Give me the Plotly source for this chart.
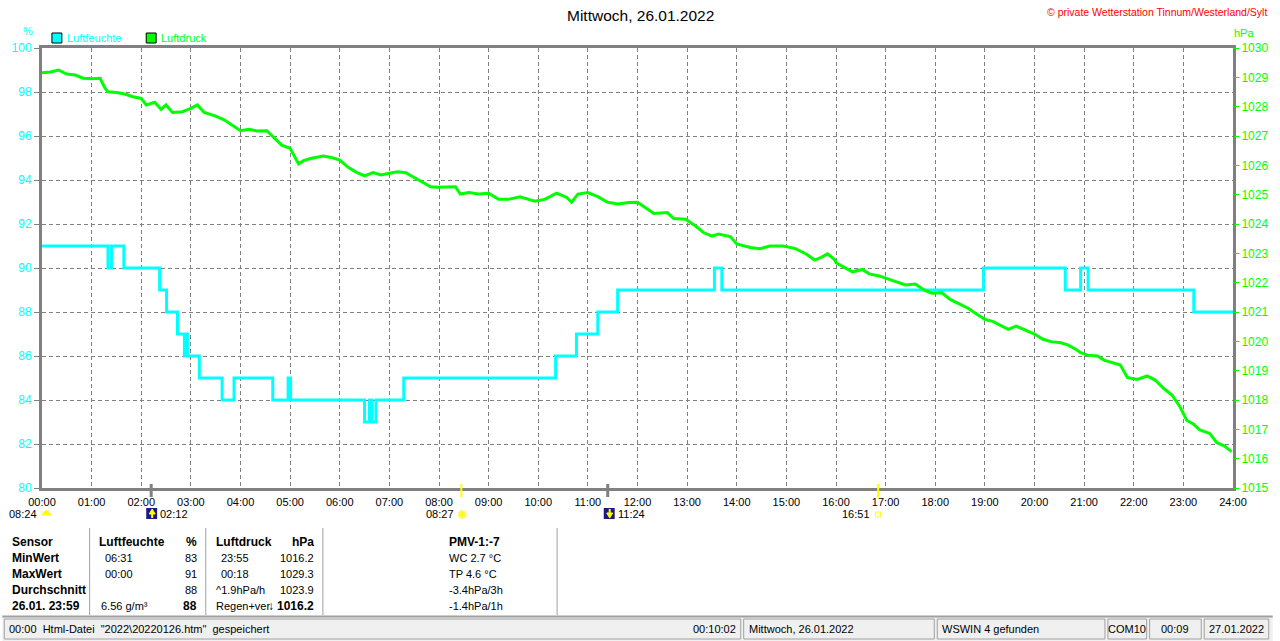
import plotly.graph_objects as go

# Luftfeuchte (%), Stufenwerte: Zeit in Stunden, Wert gilt ab dieser Zeit
hum_t = [0.00, 1.33, 1.40, 1.65, 2.37, 2.51, 2.73, 2.87, 2.90, 2.93, 3.17, 3.63, 3.87,
         4.65, 4.96, 5.01, 6.50, 6.60, 6.65, 6.73, 7.29, 10.35, 10.77, 11.20, 11.60,
         13.55, 13.70, 18.97, 20.62, 20.93, 21.08, 23.21, 24.00]
hum_v = [91, 90, 91, 90, 89, 88, 87, 86, 87, 86, 85, 84, 85,
         84, 85, 84, 83, 84, 83, 84, 85, 86, 87, 88, 89,
         90, 89, 90, 89, 90, 89, 88, 88]

# Luftdruck (hPa)
pres_t = [0.00, 0.17, 0.33, 0.50, 0.67, 0.83, 1.00, 1.17, 1.27, 1.33, 1.50, 1.67, 1.83,
          2.00, 2.10, 2.27, 2.40, 2.50, 2.63, 2.83, 3.00, 3.13, 3.27, 3.50, 3.67, 3.83,
          4.00, 4.17, 4.33, 4.53, 4.67, 4.83, 5.00, 5.10, 5.17, 5.27, 5.43, 5.67, 5.83,
          6.00, 6.17, 6.33, 6.50, 6.67, 6.83, 7.00, 7.17, 7.33, 7.50, 7.67, 7.83, 7.97,
          8.17, 8.33, 8.43, 8.60, 8.80, 9.00, 9.20, 9.40, 9.63, 9.80, 9.93, 10.13, 10.37,
          10.57, 10.67, 10.80, 11.00, 11.20, 11.40, 11.60, 11.83, 12.00, 12.17, 12.33,
          12.60, 12.73, 12.97, 13.17, 13.33, 13.50, 13.63, 13.87, 14.00, 14.27, 14.47,
          14.67, 14.93, 15.17, 15.40, 15.57, 15.70, 15.83, 15.97, 16.00, 16.17, 16.33,
          16.53, 16.67, 16.87, 17.07, 17.23, 17.40, 17.60, 17.77, 17.93, 18.13, 18.30,
          18.50, 18.67, 18.83, 19.00, 19.17, 19.33, 19.47, 19.63, 19.80, 20.00, 20.17,
          20.33, 20.53, 20.67, 20.83, 20.93, 21.07, 21.27, 21.40, 21.60, 21.73, 21.87,
          22.07, 22.27, 22.43, 22.60, 22.77, 22.93, 23.07, 23.20, 23.33, 23.53, 23.67,
          23.83, 23.97]
pres_v = [1029.16, 1029.18, 1029.25, 1029.11, 1029.08, 1028.97, 1028.95, 1028.97, 1028.63,
          1028.51, 1028.48, 1028.43, 1028.34, 1028.28, 1028.06, 1028.15, 1027.91, 1028.06,
          1027.80, 1027.83, 1027.94, 1028.06, 1027.80, 1027.68, 1027.55, 1027.38, 1027.18,
          1027.23, 1027.17, 1027.18, 1026.95, 1026.69, 1026.58, 1026.24, 1026.05, 1026.16,
          1026.24, 1026.32, 1026.27, 1026.18, 1025.93, 1025.77, 1025.64, 1025.75, 1025.67,
          1025.73, 1025.78, 1025.75, 1025.59, 1025.44, 1025.27, 1025.25, 1025.25, 1025.27,
          1025.02, 1025.07, 1025.02, 1025.05, 1024.84, 1024.84, 1024.93, 1024.84, 1024.78,
          1024.84, 1025.05, 1024.91, 1024.74, 1025.02, 1025.07, 1024.93, 1024.74, 1024.68,
          1024.73, 1024.74, 1024.53, 1024.36, 1024.39, 1024.19, 1024.16, 1023.93, 1023.71,
          1023.59, 1023.66, 1023.57, 1023.32, 1023.20, 1023.16, 1023.25, 1023.25, 1023.17,
          1022.98, 1022.77, 1022.86, 1022.98, 1022.79, 1022.68, 1022.52, 1022.37, 1022.45,
          1022.30, 1022.23, 1022.11, 1022.00, 1021.92, 1021.95, 1021.75, 1021.64, 1021.66,
          1021.43, 1021.27, 1021.12, 1020.93, 1020.75, 1020.67, 1020.52, 1020.41, 1020.52,
          1020.39, 1020.25, 1020.07, 1019.99, 1019.95, 1019.88, 1019.73, 1019.61, 1019.53,
          1019.50, 1019.36, 1019.25, 1019.19, 1018.77, 1018.70, 1018.82, 1018.68, 1018.40,
          1018.17, 1017.77, 1017.30, 1017.18, 1016.98, 1016.86, 1016.55, 1016.43, 1016.24]

hours = list(range(25))
hour_labels = ["%02d:00" % h for h in hours]

# Sonne / Mond
sun_rise, sun_set = 8 + 27 / 60, 16 + 51 / 60
moon_rise, moon_set = 2 + 12 / 60, 11 + 24 / 60

# Tabelle unter dem Diagramm
tab_rows = ["Sensor", "MinWert", "MaxWert", "Durchschnitt", "26.01. 23:59"]
hum_times = ["", "06:31", "00:00", "", ""]
hum_vals = ["<b>%</b>", "83", "91", "88", "<b>88</b>"]
pres_times = ["", "23:55", "00:18", "", ""]
pres_vals = ["<b>hPa</b>", "1016.2", "1029.3", "1023.9", "<b>1016.2</b>"]
pmv_lines = ["<b>PMV-1:-7</b>", "WC 2.7 °C", "TP 4.6 °C", "-3.4hPa/3h", "-1.4hPa/1h"]

status_panels = [
    (2, 744, "00:00\u00a0 Html-Datei\u00a0 \"2022\\20220126.htm\"\u00a0 gespeichert", "left"),
    (2, 744, "00:10:02", "right"),
    (747, 939, "Mittwoch, 26.01.2022", "left"),
    (942, 1111, "WSWIN 4 gefunden", "left"),
    (1114, 1153, "COM10", "center"),
    (1156, 1208, "00:09", "center"),
    (1211, 1276, "27.01.2022", "center"),
]

CYAN = "#00ffff"
GREEN = "#00ff00"
GRID = "#808080"
FONT = "Liberation Sans, Arial, sans-serif"
FS = 11


def px(x):
    return (x - 40) / 1200


def py(y):
    return (488 - y) / 440


fig = go.Figure()
fig.add_trace(go.Scatter(x=hum_t, y=hum_v, mode="lines", line_shape="hv",
                         line=dict(color=CYAN, width=3), name="Luftfeuchte"))
fig.add_trace(go.Scatter(x=pres_t, y=pres_v, mode="lines", yaxis="y2",
                         line=dict(color=GREEN, width=3), name="Luftdruck"))

annotations = []
shapes = []


def text(x, y, s, anchor="left", color="black", size=FS):
    annotations.append(dict(x=px(x), y=py(y), xref="paper", yref="paper", text=s,
                            showarrow=False, xanchor=anchor, yanchor="middle",
                            font=dict(family=FONT, size=size, color=color)))


# Titel und Copyright
text(643, 15, "Mittwoch, 26.01.2022", "center", size=15.5)
text(1276, 12, "© private Wetterstation Tinnum/Westerland/Sylt", "right", color="#ff0000", size=10.5)

# Legende und Einheiten
shapes.append(dict(type="rect", xref="paper", yref="paper", x0=px(50), x1=px(60), y0=py(43), y1=py(33),
                   fillcolor=CYAN, line=dict(color="black", width=1)))
text(63, 38, "Luftfeuchte", color=CYAN)
shapes.append(dict(type="rect", xref="paper", yref="paper", x0=px(145), x1=px(155), y0=py(43), y1=py(33),
                   fillcolor=GREEN, line=dict(color="black", width=1)))
text(158, 38, "Luftdruck", color=GREEN)
text(26, 31, "%", "center", color=CYAN)
text(1239, 33, "hPa", "left", color=GREEN)

# Sonnen- und Mondzeiten unter der Zeitachse
for t, col, w in [(sun_rise, "#ffff00", 2), (sun_set, "#ffff00", 2), (moon_rise, GRID, 3), (moon_set, GRID, 3)]:
    x = 40 + t * 50
    shapes.append(dict(type="line", xref="paper", yref="paper", x0=px(x), x1=px(x), y0=py(484), y1=py(497),
                       line=dict(color=col, width=w)))

text(37, 514, "08:24", "right")
shapes.append(dict(type="path", xref="paper", yref="paper",
                   path="M %f %f Q %f %f %f %f Z" % (px(40), py(515), px(44.5), py(506), px(49), py(515)),
                   fillcolor="#ffff00", line=dict(color="#ffff00", width=1)))
text(457, 514, "08:27", "right")
shapes.append(dict(type="circle", xref="paper", yref="paper", x0=px(460), x1=px(467), y0=py(518), y1=py(511),
                   fillcolor="#ffff00", line=dict(color="#fff080", width=2)))
text(876, 514, "16:51", "right")
shapes.append(dict(type="rect", xref="paper", yref="paper", x0=px(880), x1=px(885), y0=py(517), y1=py(512),
                   fillcolor="white", line=dict(color="#ffff00", width=1)))
for x0, label, up in [(145, "02:12", True), (606, "11:24", False)]:
    shapes.append(dict(type="rect", xref="paper", yref="paper", x0=px(x0), x1=px(x0 + 11), y0=py(519), y1=py(508),
                       fillcolor="#1a1a80", line=dict(width=0)))
    if up:
        p = "M %f %f L %f %f L %f %f Z" % (px(x0 + 3), py(514), px(x0 + 6), py(509), px(x0 + 9), py(514))
        shapes.append(dict(type="line", xref="paper", yref="paper", x0=px(x0 + 6), x1=px(x0 + 6),
                           y0=py(513), y1=py(518), line=dict(color="#ffff00", width=2)))
    else:
        p = "M %f %f L %f %f L %f %f Z" % (px(x0 + 3), py(513), px(x0 + 6), py(518), px(x0 + 9), py(513))
        shapes.append(dict(type="line", xref="paper", yref="paper", x0=px(x0 + 6), x1=px(x0 + 6),
                           y0=py(509), y1=py(514), line=dict(color="#ffff00", width=2)))
    shapes.append(dict(type="path", xref="paper", yref="paper", path=p,
                       fillcolor="#ffff00", line=dict(color="#ffff00", width=1)))
    text(x0 + 12, 514, label)

# Tabelle
row_y = [542, 558, 574, 590, 606]
for i, y in enumerate(row_y):
    text(8, y, "<b>%s</b>" % tab_rows[i], size=12)
    if hum_times[i]:
        text(101, y, hum_times[i])
    text(198, y, hum_vals[i], "right", size=12 if i in (0, 4) else FS)
    if pres_times[i]:
        text(218, y, pres_times[i])
    text(316, y, pres_vals[i], "right", size=12 if i in (0, 4) else FS)
    text(448, y, pmv_lines[i], size=12 if i == 0 else FS)
text(95, row_y[0], "<b>Luftfeuchte</b>", size=12)
text(213, row_y[0], "<b>Luftdruck</b>", size=12)
text(97, row_y[4], "6.56 g/m³")
text(213, row_y[3], "^1.9hPa/h")
text(213, row_y[4], "Regen+ver")
text(271, row_y[4], "<b>↓</b>", "center", size=12)

for x in [88, 205, 323, 559]:
    shapes.append(dict(type="line", xref="paper", yref="paper", x0=px(x), x1=px(x), y0=py(528), y1=py(615),
                       line=dict(color="#a0a0a0", width=1)))

# Statusleiste
shapes.append(dict(type="rect", xref="paper", yref="paper", x0=px(0), x1=px(1280), y0=py(641), y1=py(616),
                   fillcolor="#f0f0f0", line=dict(width=0), layer="below"))
shapes.append(dict(type="line", xref="paper", yref="paper", x0=px(0), x1=px(1280), y0=py(616.5), y1=py(616.5),
                   line=dict(color="#a0a0a0", width=2)))
done = set()
for x0, x1, s, anchor in status_panels:
    if (x0, x1) not in done:
        done.add((x0, x1))
        shapes.append(dict(type="rect", xref="paper", yref="paper", x0=px(x0), x1=px(x1), y0=py(639), y1=py(619),
                           line=dict(color="#a0a0a0", width=1)))
    if anchor == "left":
        text(x0 + 3, 629, s)
    elif anchor == "right":
        text(x1 - 3, 629, s, "right")
    else:
        text((x0 + x1) / 2, 629, s, "center")

fig.update_layout(
    width=1280, height=641, autosize=False,
    margin=dict(l=40, r=40, t=48, b=153),
    paper_bgcolor="white", plot_bgcolor="white",
    showlegend=False,
    annotations=annotations, shapes=shapes,
    xaxis=dict(range=[0, 24], tickvals=hours, ticktext=hour_labels,
               showgrid=True, gridcolor=GRID, gridwidth=1, griddash="4px,3px",
               showline=True, linecolor=GRID, linewidth=3, mirror=True,
               ticks="outside", ticklen=2, tickcolor="rgba(0,0,0,0)",
               tickfont=dict(family=FONT, size=FS, color="black"), zeroline=False),
    yaxis=dict(range=[80, 100], dtick=2, showgrid=True, gridcolor=GRID, gridwidth=1, griddash="4px,3px",
               showline=True, linecolor=GRID, linewidth=3, mirror=True,
               ticks="outside", ticklen=5, tickcolor=GRID,
               tickfont=dict(family=FONT, size=FS + 1, color=CYAN), zeroline=False),
    yaxis2=dict(range=[1015, 1030], dtick=1, overlaying="y", side="right", showgrid=False,
                ticks="outside", ticklen=5, tickcolor=GREEN, showline=False,
                tickfont=dict(family=FONT, size=FS + 1, color=GREEN), zeroline=False),
)

fig.write_html("out.html", config={"displayModeBar": False},
               post_script="document.body.style.margin='0';document.body.style.overflow='hidden';")
